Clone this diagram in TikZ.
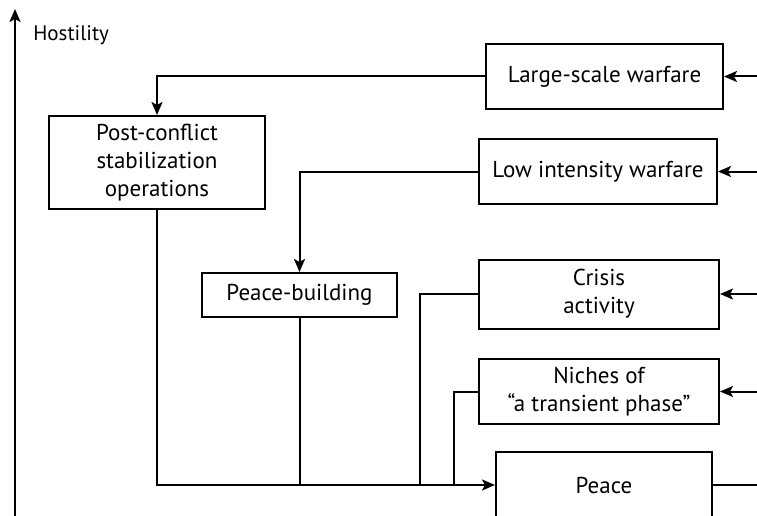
\documentclass[tikz,border=0pt]{standalone}
\usepackage{fontspec}
\setmainfont{PT Sans}
\usetikzlibrary{arrows.meta}

\begin{document}
\begin{tikzpicture}[x=1pt, y=-1pt, line width=2pt, >={Stealth[length=13pt,width=11pt,inset=3pt]},
		every node/.style={font=\fontsize{23}{28}\selectfont},
		phase/.style={draw, align=center, inner sep=0pt}]
			\useasboundingbox (0,0) rectangle (757,516);

			% Axis
			\draw[->] (15,518) -- (15,9);
			\node[anchor=west, font=\fontsize{21}{25}\selectfont] (hostility) at (29,35) {Hostility};

			% Phases
			\node[phase, minimum width=237, minimum height=65] (lsw) at (604.5,76.5) {Large-scale warfare};
			\node[phase, minimum width=238, minimum height=65] (liw) at (598,171.5) {Low intensity warfare};
			\node[phase, minimum width=216, minimum height=93] (psco) at (157,162.5) {Post-conflict\\stabilization\\operations};
			\node[phase, minimum width=195, minimum height=44] (pb) at (299.5,295) {Peace-building};
			\node[phase, minimum width=240, minimum height=69] (crisis) at (599,294) {Crisis\\activity};
			\node[phase, minimum width=240, minimum height=65] (niches) at (599,391.5) {Niches of\\``a transient phase''};
			\node[phase, minimum width=216, minimum height=66] (peace) at (604,485) {Peace};

			% Inputs from the right
			\coordinate (lswin) at (757,76.5);
			\coordinate (liwin) at (757,171.5);
			\coordinate (crisisin) at (757,294);
			\coordinate (nichesin) at (757,391.5);
			\coordinate (peaceout) at (757,485);
			\draw[->] (lswin) -- (lsw.east);
			\draw[->] (liwin) -- (liw.east);
			\draw[->] (crisisin) -- (crisis.east);
			\draw[->] (nichesin) -- (niches.east);
			\draw (peace.east) -- (peaceout);

			% Transitions
			\draw[->] (lsw.west) -| (psco.north);
			\draw[->] (liw.west) -| (pb.north);
			\draw[->] (psco.south) |- (peace.west);
			\draw (pb.south) -- (pb.south |- peace.west);
			\coordinate (crisisjoin) at (420,485);
			\coordinate (nichesjoin) at (454,485);
			\draw (crisis.west) -| (crisisjoin);
			\draw (niches.west) -| (nichesjoin);
		\end{tikzpicture}
\end{document}
